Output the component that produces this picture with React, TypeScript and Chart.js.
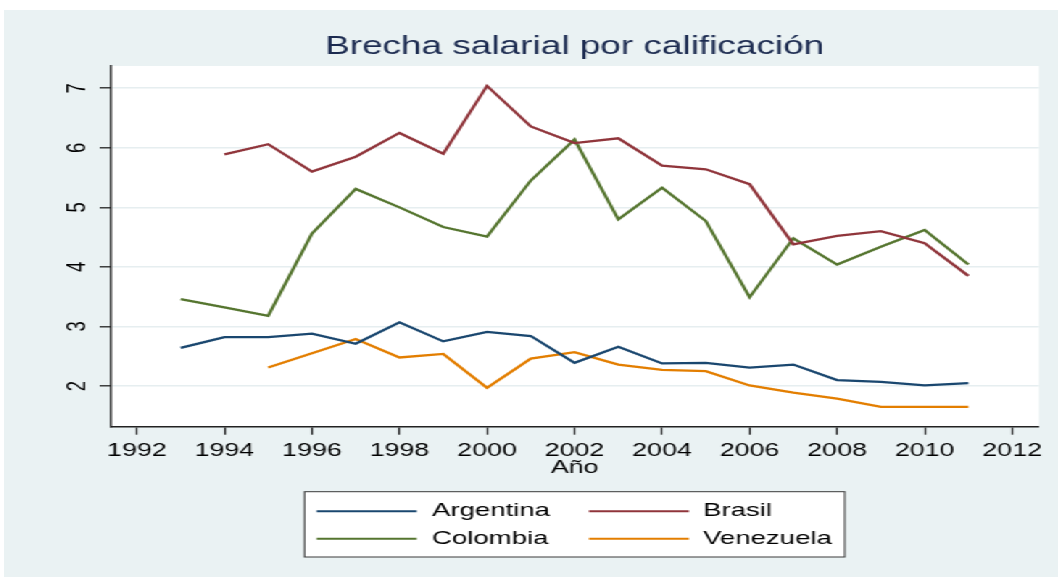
import React, { useEffect, useRef } from "react";
import { Chart, registerables } from "chart.js";

Chart.register(...registerables);

const years = [1993, 1994, 1995, 1996, 1997, 1998, 1999, 2000, 2001, 2002, 2003, 2004, 2005, 2006, 2007, 2008, 2009, 2010, 2011];
const argentina = [2.64, 2.82, 2.82, 2.88, 2.71, 3.07, 2.75, 2.91, 2.84, 2.39, 2.66, 2.38, 2.39, 2.31, 2.36, 2.10, 2.07, 2.01, 2.05];
const brasil = [null, 5.89, 6.06, 5.60, 5.85, 6.25, 5.90, 7.04, 6.36, 6.08, 6.16, 5.70, 5.64, 5.39, 4.38, 4.52, 4.60, 4.40, 3.85];
const colombia = [3.46, 3.32, 3.18, 4.56, 5.31, 5.00, 4.67, 4.51, 5.45, 6.14, 4.80, 5.33, 4.77, 3.49, 4.48, 4.04, 4.34, 4.62, 4.04];
const venezuela = [null, null, 2.31, 2.55, 2.79, 2.48, 2.54, 1.97, 2.46, 2.57, 2.36, 2.27, 2.25, 2.01, 1.89, 1.79, 1.65, 1.65, 1.65];

const xTicks = [1992, 1994, 1996, 1998, 2000, 2002, 2004, 2006, 2008, 2010, 2012];
const yTicks = [2, 3, 4, 5, 6, 7];

const seriesNames = ["Argentina", "Brasil", "Colombia", "Venezuela"];
const seriesColors = ["#1a476f", "#90353b", "#55752f", "#e37e00"];
const seriesValues = [argentina, brasil, colombia, venezuela];

const TITLE = "Brecha salarial por calificación";
const X_TITLE = "Año";

const INNER_W = 727;
const INNER_H = 567;
const SX = 1054 / INNER_W;
const FONT = "'Liberation Sans', Arial, Helvetica, sans-serif";

const plotBg = {
  id: "plotBg",
  beforeDraw(chart: any) {
    const { ctx, chartArea } = chart;
    ctx.save();
    ctx.fillStyle = "#ffffff";
    ctx.fillRect(chartArea.left, chartArea.top, chartArea.right - chartArea.left, chartArea.bottom - chartArea.top);
    ctx.restore();
  },
};

const yLabels = {
  id: "yLabels",
  afterDraw(chart: any) {
    const { ctx } = chart;
    const ys = chart.scales.y;
    ctx.save();
    ctx.fillStyle = "#000";
    ctx.font = `18.5px ${FONT}`;
    ctx.textAlign = "center";
    ctx.textBaseline = "middle";
    for (const v of yTicks) {
      const py = ys.getPixelForValue(v);
      ctx.save();
      ctx.translate(51, py);
      ctx.rotate(-Math.PI / 2);
      ctx.fillText(String(v), 0, 0);
      ctx.restore();
    }
    ctx.restore();
  },
};

const boxLegend = {
  id: "boxLegend",
  afterDraw(chart: any) {
    const { ctx, chartArea } = chart;
    const cx = (chartArea.left + chartArea.right) / 2;
    const w = 372.7;
    const h = 65.3;
    const L = cx - w / 2;
    const T = 481.7;
    ctx.save();
    ctx.fillStyle = "#ffffff";
    ctx.fillRect(L, T, w, h);
    ctx.strokeStyle = "#3a3a3a";
    ctx.lineWidth = 1;
    ctx.strokeRect(L, T, w, h);
    ctx.font = `19px ${FONT}`;
    ctx.textAlign = "left";
    ctx.textBaseline = "middle";
    const ds = chart.data.datasets;
    ds.forEach((d: any, i: number) => {
      const col = i % 2;
      const row = Math.floor(i / 2);
      const y = T + (row === 0 ? 19.5 : 47);
      const x0 = L + (col === 0 ? 8.4 : 196.2);
      const x1 = x0 + 69;
      const tx = L + (col === 0 ? 88 : 275);
      ctx.strokeStyle = d.borderColor;
      ctx.lineWidth = 2;
      ctx.beginPath();
      ctx.moveTo(x0, y);
      ctx.lineTo(x1, y);
      ctx.stroke();
      ctx.fillStyle = "#000";
      ctx.fillText(d.label, tx, y);
    });
    ctx.restore();
  },
};

export default function App() {
  const canvasRef = useRef<HTMLCanvasElement | null>(null);

  useEffect(() => {
    const canvas = canvasRef.current;
    if (!canvas) return;
    const datasets = seriesNames.map((name, i) => ({
      label: name,
      data: years.map((yr, j) => ({ x: yr, y: seriesValues[i][j] })),
      borderColor: seriesColors[i],
      backgroundColor: seriesColors[i],
      borderWidth: 2.3,
      pointRadius: 0,
      tension: 0,
      spanGaps: false,
      fill: false,
    }));
    const chart = new Chart(canvas, {
      type: "line",
      data: { datasets },
      options: {
        animation: false,
        responsive: false,
        maintainAspectRatio: false,
        devicePixelRatio: 1,
        layout: { padding: { top: 0, left: 0, right: 13.2, bottom: 97.9 } },
        plugins: {
          legend: { display: false },
          tooltip: { enabled: false },
          title: {
            display: true,
            text: TITLE,
            color: "#1c2b50",
            fullSize: false,
            font: { family: FONT, size: 25.5, weight: "normal", lineHeight: 1.2 },
            padding: { top: 22, bottom: 3.4 },
          },
        },
        scales: {
          x: {
            type: "linear",
            min: 1991.394,
            max: 2012.61,
            afterBuildTicks: (s: any) => {
              s.ticks = xTicks.map((v) => ({ value: v }));
            },
            afterFit: (s: any) => {
              s.height = 52.1;
            },
            ticks: {
              includeBounds: false,
              autoSkip: false,
              maxRotation: 0,
              minRotation: 0,
              color: "#000",
              padding: 5,
              font: { family: FONT, size: 18.5 },
              callback: (v: any) => String(v),
            },
            grid: {
              display: true,
              drawOnChartArea: false,
              drawTicks: true,
              tickLength: 7.7,
              tickColor: "#222",
              tickWidth: 1.2,
            },
            border: { display: true, color: "#222", width: 1.5 },
            title: {
              display: true,
              text: X_TITLE,
              color: "#000",
              padding: { top: 0, bottom: 0 },
              font: { family: FONT, size: 18.5, lineHeight: 1.2 },
            },
          },
          y: {
            type: "linear",
            min: 1.312,
            max: 7.374,
            afterBuildTicks: (s: any) => {
              s.ticks = yTicks.map((v) => ({ value: v }));
            },
            afterFit: (s: any) => {
              s.width = 73.4;
            },
            ticks: { display: false },
            grid: {
              display: true,
              drawOnChartArea: true,
              drawTicks: true,
              color: "#e6eef0",
              lineWidth: 1.6,
              tickLength: 7.4,
              tickColor: "#222",
              tickWidth: 1.3,
            },
            border: { display: true, color: "#222", width: 1.4 },
          },
        },
      },
      plugins: [plotBg, yLabels, boxLegend],
    });
    return () => chart.destroy();
  }, []);

  return (
    <div style={{ position: "absolute", left: 0, top: 0, width: 1058, height: 578, background: "#ffffff", overflow: "hidden" }}>
      <div
        style={{
          position: "absolute",
          left: 4,
          top: 10,
          width: INNER_W,
          height: INNER_H,
          background: "#eaf2f3",
          transform: `scaleX(${SX})`,
          transformOrigin: "0 0",
        }}
      >
        <canvas ref={canvasRef} width={INNER_W} height={INNER_H} style={{ width: INNER_W, height: INNER_H, display: "block" }} />
      </div>
    </div>
  );
}
